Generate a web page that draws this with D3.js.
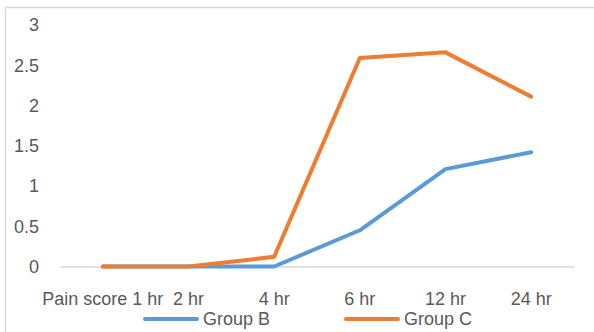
<!DOCTYPE html>
<html>
<head>
<meta charset="utf-8">
<script src="https://cdn.jsdelivr.net/npm/d3@7"></script>
<style>
  html, body { margin: 0; padding: 0; background: #fff; }
  svg { display: block; }
  text { font-family: "Liberation Sans", Arial, sans-serif; fill: #595959; }
</style>
</head>
<body>
<svg id="chart" width="594" height="332"></svg>
<script>
const categories = ["Pain score 1 hr", "2 hr", "4 hr", "6 hr", "12 hr", "24 hr"];
const groupB = [0, 0, 0, 0.45, 1.21, 1.42];
const groupC = [0, 0, 0.12, 2.59, 2.66, 2.11];
const seriesNames = ["Group B", "Group C"];
const yTicks = [0, 0.5, 1, 1.5, 2, 2.5, 3];

const colors = ["#5b9bd5", "#ed7d31"];
const svg = d3.select("#chart");
const W = 594, H = 332;

// outer chart frame
svg.append("rect").attr("x", 5.5).attr("y", 7.5).attr("width", W + 10).attr("height", H + 10)
  .attr("fill", "#fff").attr("stroke", "#d9d9d9").attr("stroke-width", 1.5);

const plotLeft = 60, plotRight = 574, plotTop = 25, plotBottom = 266.5;

const x = d3.scaleBand().domain(categories).range([plotLeft, plotRight]);
const y = d3.scaleLinear().domain([0, 3]).range([plotBottom, plotTop]);

// y axis labels
const yAxis = d3.axisLeft(y).tickValues(yTicks).tickSize(0).tickPadding(0)
  .tickFormat(d => String(d));
const gy = svg.append("g").attr("transform", "translate(39,0)").call(yAxis);
gy.select(".domain").remove();
gy.selectAll("text").attr("font-size", 18).attr("fill", "#595959")
  .style("font-family", "'Liberation Sans', Arial, sans-serif");

// x axis baseline + labels
const xAxis = d3.axisBottom(x).tickSize(0).tickPadding(0);
const gx = svg.append("g").attr("transform", `translate(0,${plotBottom})`).call(xAxis);
gx.select(".domain").attr("stroke", "#d9d9d9").attr("stroke-width", 1.5);
gx.selectAll("text").attr("font-size", 18).attr("fill", "#595959").attr("dy", null)
  .attr("y", 38).style("font-family", "'Liberation Sans', Arial, sans-serif");

// lines
const series = [groupB, groupC];
const line = d3.line()
  .x((d, i) => x(categories[i]) + x.bandwidth() / 2)
  .y(d => y(d));
series.forEach((s, k) => {
  svg.append("path").datum(s)
    .attr("fill", "none")
    .attr("stroke", colors[k])
    .attr("stroke-width", 4)
    .attr("stroke-linejoin", "round")
    .attr("stroke-linecap", "round")
    .attr("d", line);
});

// legend
const legendX = [145, 346];
const lg = svg.append("g");
seriesNames.forEach((name, k) => {
  const g = lg.append("g").attr("transform", `translate(${legendX[k]},319)`);
  g.append("line").attr("x1", 0).attr("x2", 52).attr("y1", 0).attr("y2", 0)
    .attr("stroke", colors[k]).attr("stroke-width", 4).attr("stroke-linecap", "round");
  g.append("text").attr("x", 58).attr("y", 0).attr("dy", "0.35em")
    .attr("font-size", 18).text(name);
});
</script>
</body>
</html>
